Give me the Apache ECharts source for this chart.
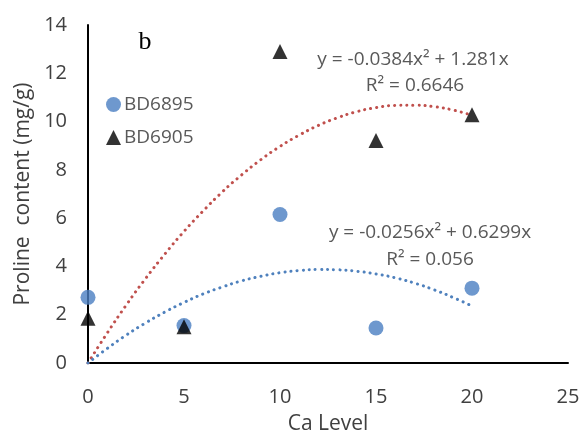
<!DOCTYPE html>
<html>
<head>
<meta charset="utf-8">
<script src="https://cdn.jsdelivr.net/npm/echarts@6/dist/echarts.min.js"></script>
<style>
  html, body { margin: 0; padding: 0; background: #fff; }
  #main { width: 582px; height: 436px; }
</style>
</head>
<body>
<div id="main"></div>
<script>
// Ca level
var caLevel = [0, 5, 10, 15, 20];
// proline content, mg/g
var bd6895 = [2.72, 1.55, 6.15, 1.45, 3.1];
var bd6905 = [1.85, 1.5, 12.9, 9.22, 10.28];

// trendline readings (poly 2) at these x
var trendX = [0, 1, 2, 3, 4, 5, 6, 7, 8, 9, 10, 11, 12, 13, 14, 15, 16, 17, 18, 19, 20];
var trend6895 = [0, 0.60, 1.16, 1.66, 2.11, 2.51, 2.86, 3.15, 3.40, 3.59, 3.74, 3.83, 3.87, 3.86, 3.80, 3.69, 3.53, 3.31, 3.04, 2.72, 2.36];
var trend6905 = [0, 1.24, 2.41, 3.50, 4.51, 5.45, 6.30, 7.09, 7.79, 8.42, 8.97, 9.44, 9.84, 10.16, 10.41, 10.58, 10.67, 10.68, 10.62, 10.48, 10.26];

var eq6905 = ["y = -0.0384x² + 1.281x", "R² = 0.6646"];
var eq6895 = ["y = -0.0256x² + 0.6299x", "R² = 0.056"];

function pairs(xs, ys) {
  return xs.map(function (x, i) { return [x, ys[i]]; });
}

var myChart = echarts.init(document.getElementById("main"));
var font = "'Open Sans', 'Liberation Sans', sans-serif";

function eqText(txt, x, y) {
  return {
    type: "text",
    style: {
      text: txt, x: x, y: y,
      align: "center", verticalAlign: "middle",
      fontSize: 19, fill: "#595959", fontFamily: font
    }
  };
}

myChart.setOption({
  animation: false,
  textStyle: { fontFamily: font },
  grid: { left: 88, right: 14, top: 25, bottom: 73, containLabel: false, outerBoundsMode: "none" },
  legend: {
    orient: "vertical",
    left: 101,
    top: 90,
    itemGap: 14,
    itemWidth: 15,
    itemHeight: 15,
    textStyle: { color: "#595959", fontSize: 19, fontFamily: font, padding: [0, 0, 0, -2] },
    data: [
      { name: "BD6895", icon: "circle" },
      { name: "BD6905", icon: "triangle" }
    ]
  },
  xAxis: {
    type: "value",
    min: 0,
    max: 25,
    interval: 5,
    name: "Ca Level",
    nameLocation: "middle",
    nameGap: 51,
    nameTextStyle: { color: "#404040", fontSize: 21, fontFamily: font },
    splitLine: { show: false },
    axisTick: { show: false },
    axisLine: { lineStyle: { color: "#000", width: 2 } },
    axisLabel: { color: "#404040", fontSize: 20, margin: 24 }
  },
  yAxis: {
    type: "value",
    min: 0,
    max: 14,
    interval: 2,
    name: "Proline  content (mg/g)",
    nameLocation: "middle",
    nameGap: 50,
    nameTextStyle: { color: "#404040", fontSize: 21, fontFamily: font },
    splitLine: { show: false },
    axisTick: { show: false },
    axisLine: { show: true, lineStyle: { color: "#000", width: 2 } },
    axisLabel: { color: "#404040", fontSize: 20, margin: 21 }
  },
  graphic: [
    {
      type: "text",
      style: { text: "b", x: 145, y: 42, align: "center", verticalAlign: "middle", fontSize: 26, fontFamily: "'Liberation Serif', serif", fill: "#000" }
    },
    eqText(eq6905[0], 413, 60),
    eqText(eq6905[1], 415, 86),
    eqText(eq6895[0], 430, 233),
    eqText(eq6895[1], 430, 260)
  ],
  series: [
    {
      name: "trend6905",
      type: "line",
      smooth: true,
      symbol: "none",
      data: pairs(trendX, trend6905),
      lineStyle: { color: "#C0504D", width: 3, type: [0.1, 6], cap: "round" },
      z: 1
    },
    {
      name: "trend6895",
      type: "line",
      smooth: true,
      symbol: "none",
      data: pairs(trendX, trend6895),
      lineStyle: { color: "#4F81BD", width: 3, type: [0.1, 6], cap: "round" },
      z: 1
    },
    {
      name: "BD6895",
      type: "scatter",
      symbol: "circle",
      symbolSize: 15,
      data: pairs(caLevel, bd6895),
      itemStyle: { color: "#4A7EC2" },
      z: 3
    },
    {
      name: "BD6905",
      type: "scatter",
      symbol: "triangle",
      symbolSize: 15,
      data: pairs(caLevel, bd6905),
      itemStyle: { color: "#000" },
      z: 4
    }
  ]
});
</script>
</body>
</html>
